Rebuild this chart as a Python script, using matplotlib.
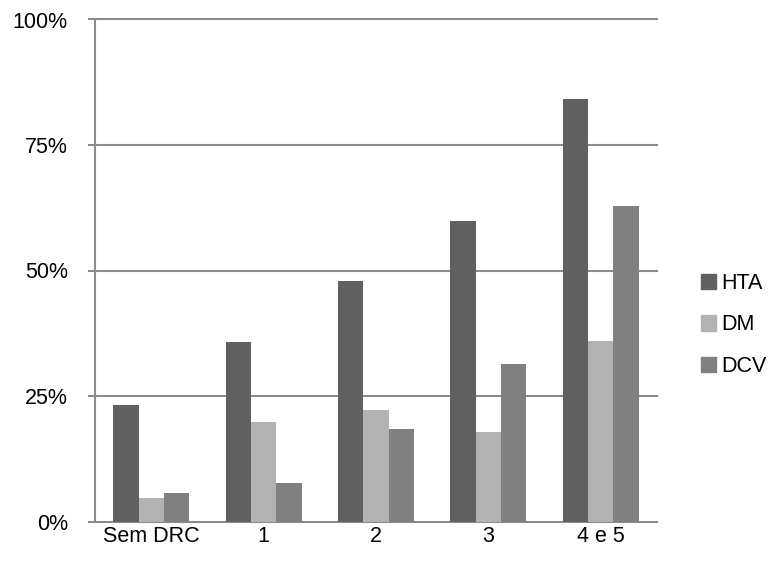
import numpy as np
import matplotlib
matplotlib.use("Agg")
import matplotlib.pyplot as plt
from matplotlib.patches import Patch

categories = ["Sem DRC", "1", "2", "3", "4 e 5"]
series = ["HTA", "DM", "DCV"]
hta = [23.2, 35.8, 47.9, 59.9, 84.2]
dm = [4.7, 19.8, 22.2, 17.8, 36.0]
dcv = [5.7, 7.7, 18.4, 31.4, 62.9]
yticks = [0, 25, 50, 75, 100]
colors = ["#606060", "#b2b2b2", "#808080"]

plt.rcParams["font.family"] = ["Liberation Sans", "DejaVu Sans"]
fig = plt.figure(figsize=(7.71, 5.79), dpi=100)
ax = fig.add_axes([95 / 771, 1 - 521.5 / 579, 562 / 771, 502 / 579])

x = np.arange(len(categories))
w = 0.225
for i, (vals, c) in enumerate(zip([hta, dm, dcv], colors)):
    ax.bar(x + (i - 1) * w, vals, width=w, color=c, zorder=3)

ax.set_xlim(-0.5, len(categories) - 0.5)
ax.set_ylim(0, 100)
ax.set_yticks(yticks)
ax.set_yticklabels([f"{t}%" for t in yticks], fontsize=15.5)
ax.set_xticks(x)
ax.set_xticklabels(categories, fontsize=15.5)
for t in yticks[1:]:
    ax.axhline(t, color="#8c8c8c", lw=1.5, zorder=1, clip_on=False)

for s in ["top", "right"]:
    ax.spines[s].set_visible(False)
ax.spines["left"].set_color("#8c8c8c")
ax.spines["left"].set_linewidth(1.5)
ax.spines["bottom"].set_color("#8c8c8c")
ax.spines["bottom"].set_linewidth(1.5)
ax.tick_params(axis="y", length=5, width=1.5, color="#8c8c8c", pad=14.5)
ax.tick_params(axis="x", length=0, pad=3.5)

handles = [Patch(color=c) for c in colors]
fig.legend(handles, series, loc="center left", bbox_to_anchor=(701 / 771, 1 - 325 / 579),
           frameon=False, fontsize=15.5, handlelength=0.7, handleheight=0.7,
           handletextpad=0.25, labelspacing=0.95, borderaxespad=0, borderpad=0)

fig.savefig("out.png", dpi=100)
